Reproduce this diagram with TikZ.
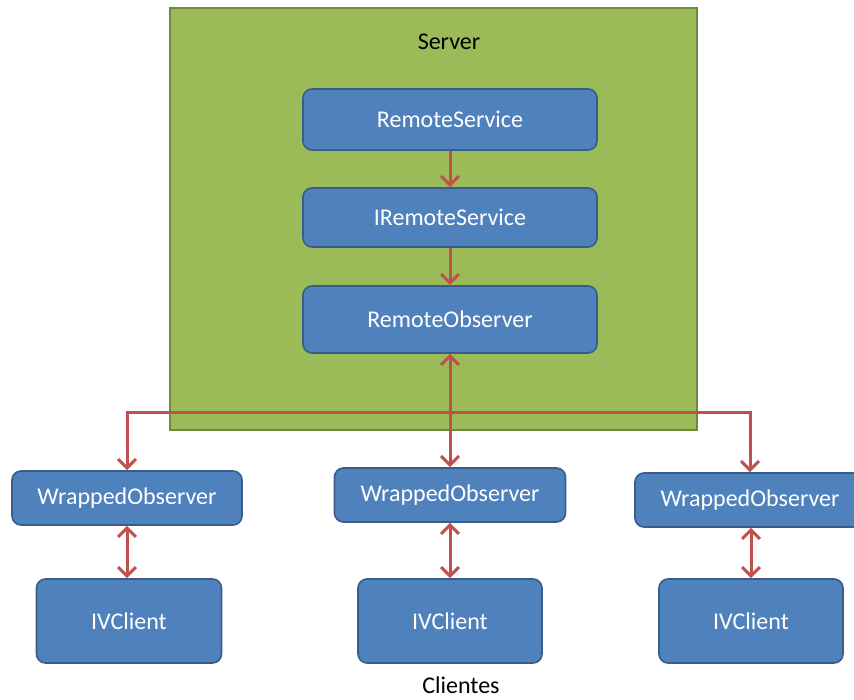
\documentclass[tikz,border=0pt]{standalone}
\usepackage{fontspec}
\setmainfont{Carlito}
\usetikzlibrary{arrows.meta}
\definecolor{srvgreen}{HTML}{9BBB59}
\definecolor{srvedge}{HTML}{71893F}
\definecolor{boxblue}{HTML}{4F81BD}
\definecolor{boxedge}{HTML}{385D8A}
\definecolor{linkred}{HTML}{C0504D}
\tikzset{
  compbox/.style={draw=boxedge, line width=1.6pt, fill=boxblue, rounded corners=9pt,
    text=white, font=\fontsize{24}{28}\selectfont, inner sep=0pt, anchor=center},
  caption/.style={text=black, font=\fontsize{24}{28}\selectfont, inner sep=0pt},
  link/.style={draw=linkred, line width=3pt,
    -{Straight Barb[length=9pt,width=18pt,line width=3pt]}},
  dlink/.style={draw=linkred, line width=3pt,
    {Straight Barb[length=9pt,width=18pt,line width=3pt]}-{Straight Barb[length=9pt,width=18pt,line width=3pt]}},
}
\begin{document}
\begin{tikzpicture}[x=1pt,y=-1pt]
\useasboundingbox (0,0) rectangle (854,700);
\clip (0,0) rectangle (854,700);

% server area
\node[draw=srvedge, line width=1.6pt, fill=srvgreen, minimum width=527pt, minimum height=422pt,
  inner sep=0pt] (srv) at (433.5,219) {};
\node[caption] (srvlabel) at (449,42) {Server};

% server components
\node[compbox, minimum width=294pt, minimum height=61pt] (rs)  at (450,119.5) {RemoteService};
\node[compbox, minimum width=294pt, minimum height=59pt] (irs) at (450,217.5) {IRemoteService};
\node[compbox, minimum width=294pt, minimum height=67pt] (ro)  at (450,319.5) {RemoteObserver};

% client side
\node[compbox, minimum width=230pt, minimum height=54pt] (wo1) at (127,498) {WrappedObserver};
\node[compbox, minimum width=231pt, minimum height=54pt] (wo2) at (450,495) {WrappedObserver};
\node[compbox, minimum width=230pt, minimum height=54pt] (wo3) at (750,500) {WrappedObserver};

\node[compbox, minimum width=185pt, minimum height=84pt] (ivc1) at (129,621) {IVClient};
\node[compbox, minimum width=184pt, minimum height=84pt] (ivc2) at (450,621) {IVClient};
\node[compbox, minimum width=184pt, minimum height=84pt] (ivc3) at (751,621) {IVClient};

\node[caption] (cli) at (461,685) {Clientes};

% connectors
\draw[link] (rs) -- (irs);
\draw[link] (irs) -- (ro);
\draw[dlink] (ro) -- (wo2);

\coordinate (hub) at (450,412);
\draw[link] (hub) -| (wo1.north);
\draw[link] (hub) -| (wo3.north);

\draw[dlink] (wo1.south) -- (wo1.south |- ivc1.north);
\draw[dlink] (wo2.south) -- (wo2.south |- ivc2.north);
\draw[dlink] (ivc3.north |- wo3.south) -- (ivc3.north);
\end{tikzpicture}
\end{document}
